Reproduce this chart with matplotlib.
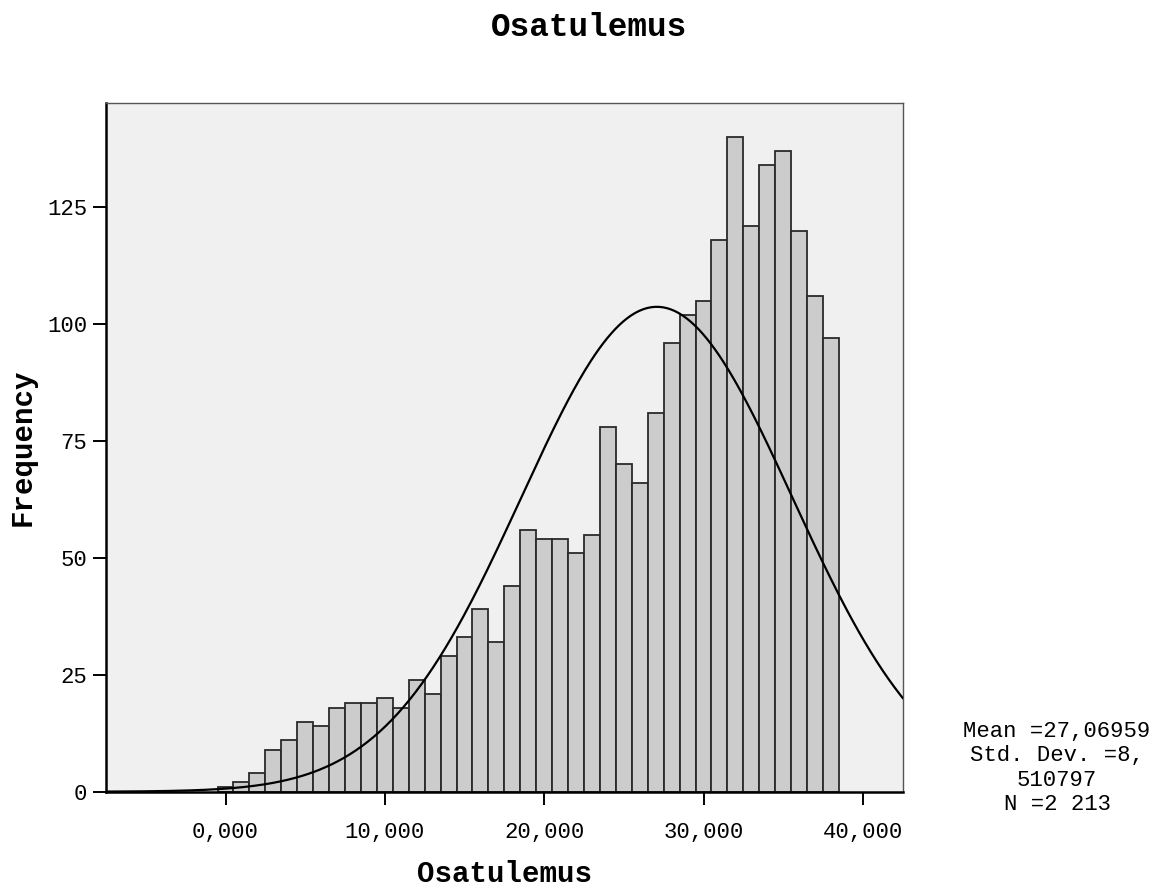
import numpy as np
import matplotlib.pyplot as plt
from matplotlib.ticker import FuncFormatter

# bin centres (width 1) and counts
bin_centers = list(range(0, 39))
counts = [1, 2, 4, 9, 11, 15, 14, 18, 19, 19,
          20, 18, 24, 21, 29, 33, 39, 32, 44, 56,
          54, 54, 51, 55, 78, 70, 66, 81, 96, 102,
          105, 118, 140, 121, 134, 137, 120, 106, 97]

mean_val = 27.06959
std_val = 8.510797
n_total = 2213
x_ticks = [0, 10, 20, 30, 40]
y_ticks = [0, 25, 50, 75, 100, 125]

MONO = "Liberation Mono"

W, H = 1160, 888
fig = plt.figure(figsize=(W / 100, H / 100), dpi=100)
fig.patch.set_facecolor("white")
ax = fig.add_axes([106 / W, 1 - 791.7 / H, (902.7 - 106) / W, (791.7 - 102.7) / H])
ax.set_facecolor("#f0f0f0")

ax.bar(bin_centers, counts, width=1.0, color="#cccccc",
       edgecolor="#2a2a2a", linewidth=1.3, zorder=2)

xs = np.linspace(-7.5, 42.5, 400)
curve = n_total * 1.0 / (std_val * np.sqrt(2 * np.pi)) * np.exp(-0.5 * ((xs - mean_val) / std_val) ** 2)
ax.plot(xs, curve, color="black", linewidth=1.6, zorder=3)

ax.set_xlim(-7.5, 42.5)
ax.set_ylim(0, 147.4)
ax.set_xticks(x_ticks)
ax.set_yticks(y_ticks)
ax.xaxis.set_major_formatter(FuncFormatter(lambda v, p: f"{v:.3f}".replace(".", ",")))
ax.yaxis.set_major_formatter(FuncFormatter(lambda v, p: f"{int(v)}"))
ax.tick_params(axis="both", direction="out", length=9.5, width=1.4, colors="black",
               labelsize=16)
ax.tick_params(axis="x", pad=12)
ax.tick_params(axis="y", pad=4)
for lab in ax.get_xticklabels() + ax.get_yticklabels():
    lab.set_fontfamily(MONO)

for side in ("left", "bottom"):
    ax.spines[side].set_linewidth(1.8)
    ax.spines[side].set_color("black")
for side in ("top", "right"):
    ax.spines[side].set_linewidth(1.0)
    ax.spines[side].set_color("#555555")

fig.text(589.5 / W, 1 - 27 / H, "Osatulemus", ha="center", va="center",
         family=MONO, weight="bold", fontsize=23.5)
fig.text(504 / W, 1 - 874 / H, "Osatulemus", ha="center", va="center",
         family=MONO, weight="bold", fontsize=21)
fig.text(23 / W, 1 - 447 / H, "Frequency", ha="center", va="center", rotation=90,
         family=MONO, weight="bold", fontsize=21)

stats = ["Mean =27,06959", "Std. Dev. =8,", "510797", "N =2 213"]
fig.text(1057 / W, 1 - 768 / H, "\n".join(stats), ha="center", va="center",
         family=MONO, fontsize=16, linespacing=1.2, multialignment="center")

fig.savefig("out.png", dpi=100)
